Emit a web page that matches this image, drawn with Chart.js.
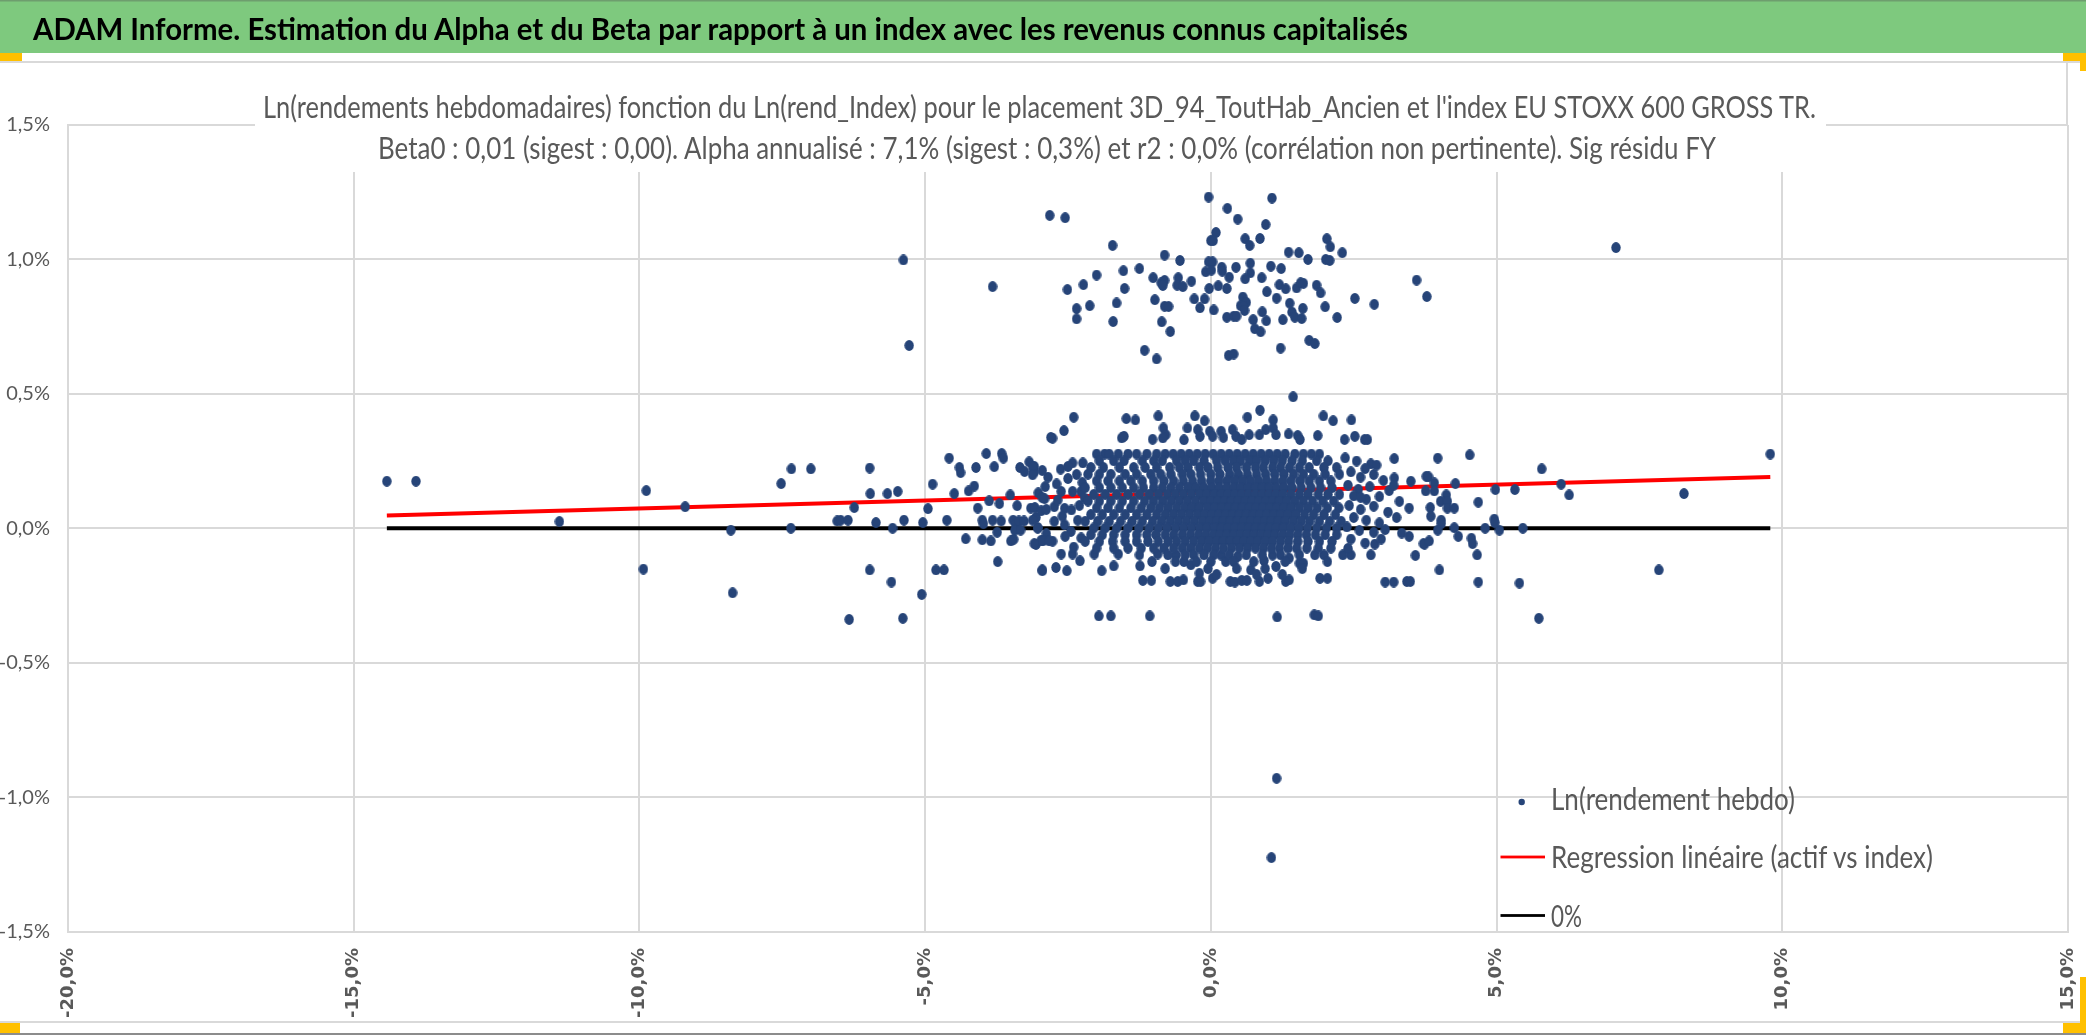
<!DOCTYPE html>
<html lang="fr">
<head>
<meta charset="utf-8">
<title>ADAM Informe</title>
<script src="https://cdn.jsdelivr.net/npm/chart.js@4.4.1/dist/chart.umd.min.js"></script>
<style>
html,body{margin:0;padding:0;background:#fff;}
#stage{position:relative;width:2086px;height:1035px;overflow:hidden;background:#fff;}
#chart{position:absolute;left:0;top:0;}
#overlay{position:absolute;left:0;top:0;pointer-events:none;}
</style>
</head>
<body>
<div id="stage">
<canvas id="chart" width="2086" height="1035"></canvas>
<svg id="overlay" width="2086" height="1035" xmlns="http://www.w3.org/2000/svg"></svg>
</div>
<script>
// ---------- texts ----------
const headerTitle = "ADAM Informe. Estimation du Alpha et du Beta par rapport à un index avec les revenus connus capitalisés";
const chartTitleLines = [
  "Ln(rendements hebdomadaires) fonction du Ln(rend_Index) pour le placement 3D_94_ToutHab_Ancien et l'index EU STOXX 600 GROSS TR.",
  "Beta0 : 0,01 (sigest : 0,00). Alpha annualisé : 7,1% (sigest : 0,3%) et r2 : 0,0% (corrélation non pertinente). Sig résidu FY"
];
const seriesNames = ["Ln(rendement hebdo)", "Regression linéaire (actif vs index)", "0%"];

// ---------- tick labels ----------
const xTickLabels = ["-20,0%", "-15,0%", "-10,0%", "-5,0%", "0,0%", "5,0%", "10,0%", "15,0%"];
const yTickLabels = ["-1,5%", "-1,0%", "-0,5%", "0,0%", "0,5%", "1,0%", "1,5%"];

// ---------- lines (x in %, y in %) ----------
const regressionX = [-14.42, 9.79];
const regressionY = [0.047, 0.191];
const zeroLineX = [-14.42, 9.79];
const zeroLineY = [0, 0];

// ---------- scatter values [index %, asset %] ----------
const upperCloud = [
[-0.04,1.232],[1.07,1.228],[-2.82,1.164],[-2.55,1.155],[0.29,1.19],[0.47,1.15],[0.96,1.13],[0.09,1.10],
[0.0,1.07],[0.04,1.07],[0.60,1.077],[0.68,1.052],[0.86,1.078],[-1.72,1.052],[2.03,1.077],[2.09,1.047],
[2.30,1.025],[1.36,1.027],[1.54,1.025],[1.70,1.0],[2.01,1.0],[2.08,0.996],[-0.81,1.016],[-0.54,0.996],
[-0.04,0.991],[0.03,0.991],[-0.09,0.954],[0.01,0.96],[0.19,0.971],[0.20,0.956],[0.44,0.971],[0.69,0.986],
[0.69,0.95],[1.05,0.975],[1.23,0.966],[0.32,0.934],[0.60,0.928],[0.89,0.932],[-1.25,0.966],[-1.53,0.958],
[-2.0,0.942],[-2.23,0.906],[-2.51,0.888],[-3.82,0.899],[-1.51,0.892],[-1.01,0.932],[-0.87,0.913],[-0.81,0.922],
[-0.84,0.903],[-0.57,0.932],[-0.59,0.904],[-0.49,0.899],[-0.34,0.919],[-0.03,0.892],[0.13,0.902],[0.28,0.892],
[0.98,0.88],[1.20,0.906],[1.31,0.891],[1.50,0.894],[1.57,0.913],[1.62,0.911],[1.85,0.904],[1.92,0.876],
[1.15,0.856],[1.38,0.837],[0.56,0.86],[0.62,0.84],[0.52,0.828],[0.57,0.825],[-0.29,0.853],[-0.11,0.853],
[-0.19,0.82],[0.05,0.812],[-0.98,0.85],[-0.81,0.826],[-0.74,0.825],[-1.65,0.838],[-2.12,0.828],[-2.35,0.817],
[-2.35,0.779],[-1.71,0.769],[-0.86,0.768],[-0.71,0.732],[0.90,0.805],[0.59,0.81],[0.74,0.776],[0.97,0.772],
[1.26,0.776],[1.42,0.804],[1.47,0.785],[1.59,0.78],[1.61,0.818],[2.0,0.824],[2.21,0.784],[2.52,0.855],
[2.86,0.833],[3.60,0.923],[3.78,0.862],[0.28,0.785],[0.40,0.789],[0.45,0.789],[0.77,0.742],[0.87,0.731],
[1.22,0.67],[1.72,0.699],[1.82,0.687],[0.31,0.643],[0.40,0.648],[-1.16,0.662],[-0.95,0.63]
];
const outliers = [
[-5.38,0.998],[-5.28,0.68],[7.09,1.044],[1.15,-0.93],[1.06,-1.225],
[-1.96,-0.326],[-1.75,-0.326],[-1.07,-0.326],[1.16,-0.33],[1.81,-0.322],[1.88,-0.326]
];
const bandTop = [
[1.44,0.489],[0.86,0.439],[-2.40,0.413],[-1.48,0.408],[-1.32,0.403],[-0.92,0.418],[-0.28,0.418],[-0.11,0.40],
[0.64,0.413],[1.09,0.403],[1.97,0.418],[2.14,0.40],[2.46,0.403],[-2.57,0.363],[-2.77,0.335],[-1.56,0.336],
[-1.52,0.342],[-1.02,0.331],[-0.83,0.373],[-0.79,0.348],[-0.84,0.336],[-0.47,0.329],[-0.41,0.373],[-0.23,0.367],
[-0.19,0.342],[-0.02,0.361],[0.03,0.342],[0.18,0.361],[0.22,0.338],[0.38,0.367],[0.44,0.342],[0.54,0.33],
[0.67,0.348],[0.85,0.348],[0.96,0.367],[1.09,0.373],[1.14,0.348],[1.36,0.351],[1.52,0.345],[1.56,0.33],
[1.87,0.345],[2.34,0.33],[2.52,0.342],[2.69,0.33],[2.74,0.33]
];
const bandBottom = [
[-2.95,-0.158],[-2.71,-0.146],[-2.52,-0.158],[-2.29,-0.121],[-1.91,-0.158],[-1.70,-0.14],[-2.62,-0.096],[-2.42,-0.096],
[-2.04,-0.096],[-1.62,-0.096],[-1.24,-0.14],[-1.03,-0.124],[-0.93,-0.096],[-1.19,-0.194],[-1.04,-0.194],[-0.71,-0.198],
[-0.58,-0.198],[-0.48,-0.192],[-0.23,-0.198],[-0.18,-0.198],[0.03,-0.186],[0.34,-0.198],[0.42,-0.2],[0.54,-0.194],
[0.63,-0.194],[0.85,-0.198],[1.0,-0.186],[1.31,-0.198],[1.37,-0.192],[1.91,-0.186],[2.04,-0.186],[3.05,-0.2],
[3.20,-0.2],[3.43,-0.198],[3.49,-0.198],[2.80,-0.099],[2.87,-0.059],[3.58,-0.101],[3.34,-0.018],[3.47,-0.03],
[3.74,-0.059],[3.47,0.075],[3.21,0.259],[3.21,0.187],[3.50,0.175],[2.80,0.239],[3.77,0.193],[1.98,-0.099],
[2.04,-0.124],[2.31,-0.099],[2.45,-0.099],[1.82,-0.099],[1.55,-0.13],[1.62,-0.13],[1.37,-0.111],[1.14,-0.142],
[1.08,-0.10],[0.93,-0.12],[0.70,-0.155],[0.18,-0.10],[0.26,-0.124],[0.47,-0.105],[-0.35,-0.136],[-0.20,-0.167],
[-0.61,-0.10],[-0.47,-0.124]
];
// outer parts of the main band, read point by point
const bandLeftEdge = [
[-3.09,0.23],[-3.09,0.21],[-3.15,0.075],[-3.06,0.04],[-3.03,0.003],[-3.06,-0.06],[-2.97,-0.045],[-2.77,-0.048],
[-2.63,0.22],[-2.42,0.243],[-2.24,0.243],[-2.62,0.137],[-2.42,0.137],[-2.27,0.137],[-2.21,0.112],[-2.91,0.11],
[-2.74,0.08],[-2.56,0.074],[-2.44,0.068],[-2.74,0.026],[-2.56,0.013],[-2.45,-0.012],[-2.27,-0.036],[-2.85,0.19],
[-2.70,0.165],[-2.50,0.185],[-2.35,0.20],[-2.90,0.155],[-2.60,0.045],[-2.33,0.03],[-2.88,-0.02],[-2.40,-0.07],
[-2.55,-0.03],[-2.25,0.17],[-2.30,0.085],[-2.68,0.105],[-2.95,0.215],[-2.50,0.23]
];
const bandRightEdge = [
[2.35,0.262],[2.55,0.25],[2.45,0.21],[2.70,0.222],[2.62,0.19],[2.85,0.20],[3.02,0.178],[2.40,0.16],
[2.58,0.145],[2.78,0.155],[3.12,0.14],[2.50,0.12],[2.72,0.108],[2.95,0.118],[3.30,0.10],[2.42,0.085],
[2.62,0.07],[2.85,0.082],[3.10,0.06],[3.25,0.04],[2.50,0.04],[2.72,0.03],[2.95,0.02],[2.38,0.005],
[2.60,-0.008],[2.85,-0.015],[3.05,-0.005],[2.45,-0.04],[2.70,-0.055],[2.98,-0.04],[2.40,-0.075],[2.62,0.115],
[3.20,0.16],[2.90,0.235]
];
const leftWing = [
[-14.42,0.175],[-13.91,0.175],[-11.40,0.025],[-9.88,0.14],[-9.93,-0.152],[-9.20,0.08],
[-8.40,-0.007],[-8.37,-0.24],[-7.52,0.166],[-7.34,0.221],[-7.0,0.221],[-7.35,0.0],[-6.24,0.077],[-6.54,0.027],
[-6.48,0.03],[-6.35,0.03],[-5.97,0.224],[-5.96,0.129],[-5.86,0.021],[-5.66,0.129],[-5.48,0.137],[-5.57,0.0],
[-5.37,0.03],[-5.04,0.021],[-5.97,-0.155],[-5.59,-0.20],[-6.33,-0.339],[-5.39,-0.335],[-5.06,-0.246],[-4.95,0.073],
[-4.87,0.164],[-4.58,0.261],[-4.62,0.03],[-4.40,0.226],[-4.38,0.207],[-4.81,-0.155],[-4.67,-0.155],[-4.49,0.129],
[-4.24,0.139],[-4.14,0.157],[-4.11,0.226],[-3.93,0.278],[-3.79,0.229],[-3.66,0.278],[-3.63,0.261],[-4.08,0.075],
[-4.29,-0.039],[-4.0,0.03],[-3.98,0.017],[-3.88,0.102],[-4.0,-0.043],[-3.85,-0.047],[-3.74,-0.015],[-3.73,-0.124],
[-3.70,0.092],[-3.82,0.03],[-3.67,0.027],[-3.51,0.124],[-3.39,0.084],[-3.34,0.226],[-3.26,0.211],[-3.18,0.247],
[-3.12,0.229],[-3.12,0.199],[-3.02,0.132],[-2.95,0.114],[-3.46,0.03],[-3.41,0.015],[-3.36,0.027],[-3.43,-0.007],
[-3.33,-0.007],[-3.50,-0.047],[-3.45,-0.041],[-3.27,0.027],[-3.12,0.03],[-3.03,0.0],[-3.08,0.077],[-2.97,0.065],
[-2.88,0.07],[-3.09,-0.057],[-2.94,-0.047],[-2.83,-0.047],[-2.95,-0.155],[-2.80,0.338]
];
const rightWing = [
[9.79,0.276],[8.28,0.129],[7.84,-0.155],[5.79,0.221],[6.13,0.164],[6.27,0.124],[5.32,0.144],[4.98,0.144],
[5.46,0.0],[5.40,-0.204],[5.74,-0.335],[5.05,-0.007],[4.96,0.034],[4.97,0.021],[4.80,0.0],[4.68,0.097],
[4.68,-0.20],[4.66,-0.099],[4.56,-0.037],[4.58,-0.057],[4.53,0.273],[3.97,0.261],[3.81,0.191],[3.91,0.169],
[3.91,0.139],[3.76,0.139],[4.28,0.166],[4.12,0.124],[4.02,0.10],[4.14,0.10],[4.14,0.075],[4.26,0.075],
[3.84,0.077],[3.85,0.045],[4.03,0.03],[4.03,0.017],[3.97,-0.007],[4.26,0.002],[4.33,-0.03],[3.72,-0.057],
[3.82,-0.047],[4.0,-0.155]
];
// dense core, read row by row: one asset level per row, index values along it
const coreRowY = [0.276,0.251,0.226,0.201,0.176,0.151,0.126,0.101,0.076,0.051,0.026,0.001,-0.024,-0.049,-0.074,-0.099,-0.124,-0.15,-0.172];
const coreRowX = [
[-2.0,-1.86,-1.78,-1.62,-1.45,-1.3,-1.12,-0.95,-0.8,-0.66,-0.52,-0.38,-0.24,-0.1,0.04,0.18,0.32,0.46,0.6,0.74,0.88,1.02,1.16,1.3,1.47,1.62,1.76,1.9],
[-1.95,-1.7,-1.52,-1.2,-1.0,-0.85,-0.6,-0.45,-0.3,-0.12,0.1,0.25,0.4,0.52,0.68,0.8,0.95,1.1,1.25,1.42,1.6,1.85,2.05],
[-2.1,-1.88,-1.6,-1.35,-1.15,-0.95,-0.72,-0.55,-0.4,-0.2,-0.05,0.12,0.3,0.45,0.62,0.78,0.92,1.08,1.22,1.38,1.55,1.72,1.98,2.2],
[-2.15,-1.95,-1.75,-1.5,-1.3,-1.05,-0.88,-0.7,-0.5,-0.35,-0.18,0.0,0.16,0.33,0.48,0.64,0.8,0.96,1.12,1.28,1.45,1.62,1.8,2.0,2.25],
[-2.0,-1.8,-1.6,-1.4,-1.2,-1.0,-0.82,-0.65,-0.48,-0.32,-0.16,0.0,0.14,0.28,0.42,0.56,0.7,0.84,0.98,1.12,1.26,1.4,1.56,1.72,1.9,2.1],
[-2.2,-1.95,-1.75,-1.55,-1.35,-1.18,-1.0,-0.85,-0.7,-0.55,-0.4,-0.26,-0.12,0.02,0.15,0.28,0.4,0.52,0.65,0.78,0.9,1.02,1.15,1.28,1.42,1.58,1.75,1.92,2.12],
[-2.05,-1.85,-1.65,-1.45,-1.25,-1.08,-0.92,-0.76,-0.62,-0.48,-0.34,-0.2,-0.07,0.06,0.18,0.3,0.42,0.54,0.66,0.78,0.9,1.02,1.14,1.26,1.4,1.55,1.7,1.88,2.05,2.25],
[-2.15,-1.95,-1.75,-1.55,-1.35,-1.16,-1.0,-0.84,-0.69,-0.55,-0.41,-0.27,-0.13,0.0,0.12,0.24,0.36,0.48,0.6,0.72,0.84,0.96,1.08,1.2,1.33,1.47,1.62,1.78,1.96,2.15],
[-2.0,-1.8,-1.6,-1.4,-1.22,-1.05,-0.9,-0.75,-0.6,-0.46,-0.33,-0.2,-0.06,0.07,0.19,0.31,0.43,0.55,0.67,0.79,0.91,1.03,1.15,1.28,1.41,1.55,1.7,1.86,2.04,2.24],
[-2.1,-1.9,-1.7,-1.5,-1.3,-1.12,-0.95,-0.8,-0.66,-0.52,-0.38,-0.24,-0.11,0.02,0.14,0.26,0.38,0.5,0.62,0.74,0.86,0.98,1.1,1.22,1.35,1.49,1.64,1.8,1.98,2.18],
[-2.2,-1.98,-1.78,-1.58,-1.38,-1.2,-1.02,-0.86,-0.71,-0.57,-0.43,-0.29,-0.15,-0.02,0.1,0.22,0.34,0.46,0.58,0.7,0.82,0.94,1.06,1.18,1.3,1.44,1.58,1.73,1.9,2.08,2.28],
[-2.05,-1.85,-1.65,-1.45,-1.26,-1.08,-0.92,-0.77,-0.62,-0.48,-0.34,-0.2,-0.07,0.06,0.18,0.3,0.42,0.54,0.66,0.78,0.9,1.02,1.14,1.27,1.4,1.54,1.69,1.85,2.02,2.2],
[-2.1,-1.9,-1.7,-1.5,-1.3,-1.12,-0.96,-0.8,-0.65,-0.5,-0.36,-0.22,-0.09,0.04,0.16,0.28,0.4,0.52,0.64,0.76,0.88,1.0,1.12,1.25,1.38,1.52,1.67,1.83,2.0,2.2],
[-2.2,-1.95,-1.72,-1.5,-1.3,-1.1,-0.92,-0.75,-0.6,-0.45,-0.3,-0.16,-0.03,0.1,0.22,0.34,0.46,0.58,0.7,0.82,0.95,1.08,1.22,1.36,1.52,1.7,1.9,2.12],
[-2.0,-1.7,-1.45,-1.22,-1.0,-0.82,-0.65,-0.5,-0.35,-0.2,-0.06,0.08,0.22,0.36,0.5,0.64,0.78,0.92,1.06,1.2,1.35,1.5,1.68,1.88,2.1],
[-1.25,-0.75,-0.45,-0.3,-0.12,0.05,0.32,0.62,0.9,1.22,1.55],
[-0.62,-0.25,0.0,0.4,0.75,1.3],
[-0.8,-0.05,0.45,0.95,1.6],
[0.1,0.8,1.25]
];

// ---------- build library data ----------
const corePairs = [];
coreRowY.forEach((yv, r) => coreRowX[r].forEach(xv => corePairs.push([xv, yv])));
const scatterPoints = [].concat(upperCloud, outliers, bandTop, bandBottom, bandLeftEdge, bandRightEdge,
                                leftWing, rightWing, corePairs)
  .map(p => ({ x: p[0], y: p[1] }));
const regressionPoints = regressionX.map((x, i) => ({ x: x, y: regressionY[i] }));
const zeroPoints = zeroLineX.map((x, i) => ({ x: x, y: zeroLineY[i] }));

// ---------- styles ----------
const dotColor = '#264478';
const regColor = '#ff0000';
const zeroColor = '#000000';
const gridColor = '#d9d9d9';
const textGray = '#595959';

const dot = document.createElement('canvas');
dot.width = 10; dot.height = 11;
(function () {
  const c = dot.getContext('2d');
  c.fillStyle = dotColor;
  c.beginPath();
  c.ellipse(5, 5.5, 4.7, 5.4, 0, 0, Math.PI * 2);
  c.fill();
})();

const chart = new Chart(document.getElementById('chart'), {
  type: 'scatter',
  data: {
    datasets: [
      { label: seriesNames[0], data: scatterPoints, pointStyle: dot, pointRadius: 5,
        backgroundColor: dotColor, borderColor: dotColor, borderWidth: 0, showLine: false },
      { label: seriesNames[1], data: regressionPoints, showLine: true, borderColor: regColor,
        backgroundColor: regColor, borderWidth: 4, pointRadius: 0, fill: false },
      { label: seriesNames[2], data: zeroPoints, showLine: true, borderColor: zeroColor,
        backgroundColor: zeroColor, borderWidth: 4, pointRadius: 0, fill: false }
    ]
  },
  options: {
    responsive: false,
    animation: false,
    events: [],
    layout: { padding: { left: 0, right: 18, top: 125, bottom: 0 } },
    plugins: { legend: { display: false }, tooltip: { enabled: false }, title: { display: false } },
    scales: {
      x: {
        type: 'linear', min: -20, max: 15,
        ticks: { stepSize: 5, autoSkip: false, minRotation: 90, maxRotation: 90, padding: 16.5,
                 color: textGray, font: { family: 'DejaVu Sans', weight: 'bold', size: 18 },
                 callback: (v, i) => xTickLabels[i] },
        grid: { color: gridColor, lineWidth: 2, drawTicks: false },
        border: { color: gridColor, width: 2 },
        afterFit: s => { s.height = 103.5; s.paddingLeft = 0; s.paddingRight = 0; }
      },
      y: {
        type: 'linear', min: -1.5, max: 1.5,
        ticks: { stepSize: 0.5, padding: 18, color: textGray, font: { family: 'Lato', size: 20 },
                 callback: (v, i) => yTickLabels[i] },
        grid: { color: gridColor, lineWidth: 2, drawTicks: false },
        border: { color: gridColor, width: 2 },
        afterFit: s => { s.width = 68; s.paddingTop = 0; s.paddingBottom = 0; }
      }
    }
  }
});

// ---------- overlay: header, frame, chart title, legend ----------
const NS = 'http://www.w3.org/2000/svg';
const svg = document.getElementById('overlay');
function el(tag, attrs, text) {
  const e = document.createElementNS(NS, tag);
  for (const k in attrs) e.setAttribute(k, attrs[k]);
  if (text !== undefined) e.textContent = text;
  svg.appendChild(e);
  return e;
}
// header band
el('rect', { x: 0, y: 0, width: 2086, height: 53, fill: '#7ec97e' });
el('rect', { x: 0, y: 0, width: 2086, height: 1.5, fill: '#6e9e6e' });
el('rect', { x: 0, y: 61, width: 2086, height: 2, fill: gridColor });
el('rect', { x: 2066, y: 62, width: 2, height: 64, fill: gridColor });
el('rect', { x: 0, y: 1021, width: 2086, height: 2, fill: gridColor });
el('rect', { x: 0, y: 1033, width: 2086, height: 2, fill: '#8c8c8c' });
// selection handles
el('rect', { x: 0, y: 53, width: 22, height: 8, fill: '#ffc000' });
el('rect', { x: 2063, y: 53, width: 23, height: 8, fill: '#ffc000' });
el('rect', { x: 2080, y: 53, width: 6, height: 18, fill: '#ffc000' });
el('rect', { x: 0, y: 1023, width: 20, height: 10, fill: '#ffc000' });
el('rect', { x: 2063, y: 1023, width: 23, height: 10, fill: '#ffc000' });
el('rect', { x: 2080, y: 977, width: 6, height: 56, fill: '#ffc000' });
el('text', { x: 33, y: 40, 'font-family': 'Lato', 'font-weight': 'bold', 'font-size': 31, fill: '#000',
             textLength: 1375, lengthAdjust: 'spacingAndGlyphs' }, headerTitle);
// chart title on white box over the plot
el('rect', { x: 255, y: 88, width: 1571, height: 84, fill: '#fff' });
el('text', { x: 263, y: 118, 'font-family': 'Lato', 'font-size': 31, fill: textGray,
             textLength: 1553, lengthAdjust: 'spacingAndGlyphs' }, chartTitleLines[0]);
el('text', { x: 378, y: 159, 'font-family': 'Lato', 'font-size': 31, fill: textGray,
             textLength: 1338, lengthAdjust: 'spacingAndGlyphs' }, chartTitleLines[1]);
// legend built from the chart datasets
const legendMarkerY = [802, 857, 915.5];
const legendBaseY = [810, 868, 927];
const legendTextLen = [244, 382, 31];
chart.data.datasets.forEach((ds, i) => {
  if (i === 0) {
    el('circle', { cx: 1521.7, cy: legendMarkerY[i], r: 3.2, fill: ds.backgroundColor });
  } else {
    el('rect', { x: 1500.5, y: legendMarkerY[i] - 1.4, width: 44.5, height: 2.8, fill: ds.borderColor });
  }
  el('text', { x: 1551, y: legendBaseY[i], 'font-family': 'Lato', 'font-size': 31, fill: textGray,
               textLength: legendTextLen[i], lengthAdjust: 'spacingAndGlyphs' }, ds.label);
});
</script>
</body>
</html>
